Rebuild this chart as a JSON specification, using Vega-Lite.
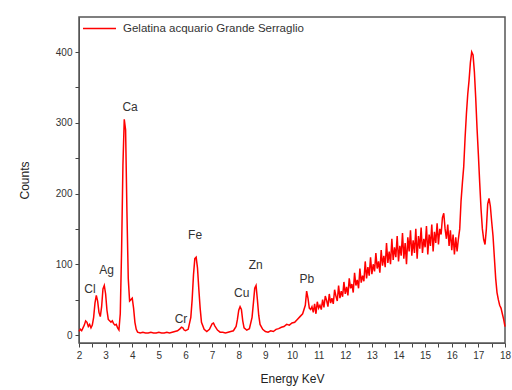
{
  "$schema": "https://vega.github.io/schema/vega-lite/v6.json",
  "width": 426,
  "height": 326,
  "autosize": {"type": "none"},
  "padding": {"left": 79, "top": 17, "right": 7, "bottom": 47},
  "background": "white",
  "config": {
    "font": "Liberation Sans",
    "view": {"stroke": "#555", "strokeWidth": 1.5}
  },
  "datasets": {
    "spec": [
      {"E": 2.00, "C": 5}, {"E": 2.05, "C": 8}, {"E": 2.10, "C": 6}, {"E": 2.15, "C": 10}, {"E": 2.20, "C": 14},
      {"E": 2.25, "C": 20}, {"E": 2.30, "C": 18}, {"E": 2.35, "C": 12}, {"E": 2.40, "C": 15}, {"E": 2.45, "C": 10},
      {"E": 2.50, "C": 14}, {"E": 2.55, "C": 25}, {"E": 2.60, "C": 45}, {"E": 2.65, "C": 56}, {"E": 2.70, "C": 48},
      {"E": 2.75, "C": 32}, {"E": 2.80, "C": 26}, {"E": 2.85, "C": 40}, {"E": 2.90, "C": 65}, {"E": 2.95, "C": 70},
      {"E": 3.00, "C": 58}, {"E": 3.05, "C": 35}, {"E": 3.10, "C": 22}, {"E": 3.15, "C": 20}, {"E": 3.20, "C": 18},
      {"E": 3.25, "C": 20}, {"E": 3.30, "C": 16}, {"E": 3.35, "C": 14}, {"E": 3.40, "C": 15}, {"E": 3.45, "C": 10},
      {"E": 3.50, "C": 7}, {"E": 3.55, "C": 30}, {"E": 3.60, "C": 120}, {"E": 3.65, "C": 240}, {"E": 3.70, "C": 305},
      {"E": 3.75, "C": 290}, {"E": 3.80, "C": 175}, {"E": 3.85, "C": 80}, {"E": 3.90, "C": 48}, {"E": 3.95, "C": 50},
      {"E": 4.00, "C": 52}, {"E": 4.05, "C": 38}, {"E": 4.10, "C": 18}, {"E": 4.15, "C": 8}, {"E": 4.20, "C": 4},
      {"E": 4.3, "C": 3}, {"E": 4.4, "C": 4}, {"E": 4.5, "C": 3}, {"E": 4.6, "C": 3}, {"E": 4.7, "C": 4},
      {"E": 4.8, "C": 3}, {"E": 4.9, "C": 3}, {"E": 5.0, "C": 4}, {"E": 5.1, "C": 3}, {"E": 5.2, "C": 3},
      {"E": 5.3, "C": 4}, {"E": 5.4, "C": 3}, {"E": 5.5, "C": 4}, {"E": 5.6, "C": 5}, {"E": 5.7, "C": 6},
      {"E": 5.8, "C": 9}, {"E": 5.85, "C": 11}, {"E": 5.9, "C": 10}, {"E": 5.95, "C": 7}, {"E": 6.0, "C": 6},
      {"E": 6.1, "C": 8}, {"E": 6.2, "C": 25}, {"E": 6.25, "C": 50}, {"E": 6.3, "C": 85}, {"E": 6.35, "C": 108},
      {"E": 6.4, "C": 110}, {"E": 6.45, "C": 95}, {"E": 6.5, "C": 65}, {"E": 6.55, "C": 38}, {"E": 6.6, "C": 18},
      {"E": 6.7, "C": 8}, {"E": 6.8, "C": 5}, {"E": 6.9, "C": 8}, {"E": 7.0, "C": 16}, {"E": 7.05, "C": 17},
      {"E": 7.1, "C": 13}, {"E": 7.2, "C": 7}, {"E": 7.3, "C": 4}, {"E": 7.4, "C": 4}, {"E": 7.5, "C": 3},
      {"E": 7.6, "C": 4}, {"E": 7.7, "C": 5}, {"E": 7.8, "C": 6}, {"E": 7.9, "C": 12}, {"E": 7.95, "C": 22},
      {"E": 8.0, "C": 35}, {"E": 8.05, "C": 40}, {"E": 8.1, "C": 36}, {"E": 8.15, "C": 20}, {"E": 8.2, "C": 10},
      {"E": 8.3, "C": 7}, {"E": 8.4, "C": 9}, {"E": 8.5, "C": 25}, {"E": 8.55, "C": 45}, {"E": 8.6, "C": 66},
      {"E": 8.65, "C": 70}, {"E": 8.7, "C": 50}, {"E": 8.75, "C": 28}, {"E": 8.8, "C": 15}, {"E": 8.9, "C": 8},
      {"E": 9.0, "C": 5}, {"E": 9.1, "C": 4}, {"E": 9.2, "C": 6}, {"E": 9.3, "C": 5}, {"E": 9.4, "C": 8},
      {"E": 9.5, "C": 9}, {"E": 9.6, "C": 11}, {"E": 9.7, "C": 12}, {"E": 9.8, "C": 15}, {"E": 9.9, "C": 14},
      {"E": 10.0, "C": 17}, {"E": 10.1, "C": 18}, {"E": 10.2, "C": 22}, {"E": 10.3, "C": 26}, {"E": 10.4, "C": 30},
      {"E": 10.5, "C": 42}, {"E": 10.55, "C": 62}, {"E": 10.6, "C": 52}, {"E": 10.65, "C": 38}, {"E": 10.7, "C": 36},
      {"E": 10.75, "C": 40}, {"E": 10.80, "C": 32}, {"E": 10.85, "C": 44}, {"E": 10.90, "C": 30}, {"E": 10.95, "C": 47},
      {"E": 11.00, "C": 38}, {"E": 11.05, "C": 42}, {"E": 11.10, "C": 36}, {"E": 11.15, "C": 50}, {"E": 11.20, "C": 39},
      {"E": 11.25, "C": 55}, {"E": 11.30, "C": 49}, {"E": 11.35, "C": 40}, {"E": 11.40, "C": 58}, {"E": 11.45, "C": 45},
      {"E": 11.50, "C": 52}, {"E": 11.55, "C": 44}, {"E": 11.60, "C": 64}, {"E": 11.65, "C": 55}, {"E": 11.70, "C": 48},
      {"E": 11.75, "C": 70}, {"E": 11.80, "C": 52}, {"E": 11.85, "C": 62}, {"E": 11.90, "C": 54}, {"E": 11.95, "C": 75},
      {"E": 12.00, "C": 58}, {"E": 12.05, "C": 68}, {"E": 12.10, "C": 56}, {"E": 12.15, "C": 80}, {"E": 12.20, "C": 66},
      {"E": 12.25, "C": 72}, {"E": 12.30, "C": 60}, {"E": 12.35, "C": 88}, {"E": 12.40, "C": 70}, {"E": 12.45, "C": 78},
      {"E": 12.50, "C": 66}, {"E": 12.55, "C": 94}, {"E": 12.60, "C": 74}, {"E": 12.65, "C": 84}, {"E": 12.70, "C": 76},
      {"E": 12.75, "C": 104}, {"E": 12.80, "C": 80}, {"E": 12.85, "C": 96}, {"E": 12.90, "C": 84}, {"E": 12.95, "C": 110},
      {"E": 13.00, "C": 86}, {"E": 13.05, "C": 100}, {"E": 13.10, "C": 90}, {"E": 13.15, "C": 116}, {"E": 13.20, "C": 94},
      {"E": 13.25, "C": 104}, {"E": 13.30, "C": 88}, {"E": 13.35, "C": 120}, {"E": 13.40, "C": 98}, {"E": 13.45, "C": 112},
      {"E": 13.50, "C": 96}, {"E": 13.55, "C": 130}, {"E": 13.60, "C": 102}, {"E": 13.65, "C": 118}, {"E": 13.70, "C": 100},
      {"E": 13.75, "C": 136}, {"E": 13.80, "C": 106}, {"E": 13.85, "C": 124}, {"E": 13.90, "C": 110}, {"E": 13.95, "C": 140},
      {"E": 14.00, "C": 104}, {"E": 14.05, "C": 126}, {"E": 14.10, "C": 112}, {"E": 14.15, "C": 144}, {"E": 14.20, "C": 108},
      {"E": 14.25, "C": 130}, {"E": 14.30, "C": 100}, {"E": 14.35, "C": 138}, {"E": 14.40, "C": 118}, {"E": 14.45, "C": 148},
      {"E": 14.50, "C": 112}, {"E": 14.55, "C": 134}, {"E": 14.60, "C": 116}, {"E": 14.65, "C": 150}, {"E": 14.70, "C": 108},
      {"E": 14.75, "C": 140}, {"E": 14.80, "C": 122}, {"E": 14.85, "C": 152}, {"E": 14.90, "C": 116}, {"E": 14.95, "C": 136},
      {"E": 15.00, "C": 124}, {"E": 15.05, "C": 154}, {"E": 15.10, "C": 114}, {"E": 15.15, "C": 142}, {"E": 15.20, "C": 126},
      {"E": 15.25, "C": 156}, {"E": 15.30, "C": 118}, {"E": 15.35, "C": 146}, {"E": 15.40, "C": 130}, {"E": 15.45, "C": 158},
      {"E": 15.50, "C": 128}, {"E": 15.55, "C": 150}, {"E": 15.60, "C": 142}, {"E": 15.65, "C": 166}, {"E": 15.70, "C": 172},
      {"E": 15.75, "C": 150}, {"E": 15.80, "C": 136}, {"E": 15.85, "C": 156}, {"E": 15.90, "C": 126}, {"E": 15.95, "C": 148},
      {"E": 16.00, "C": 120}, {"E": 16.05, "C": 142}, {"E": 16.10, "C": 114}, {"E": 16.15, "C": 138}, {"E": 16.20, "C": 118},
      {"E": 16.25, "C": 136}, {"E": 16.30, "C": 150}, {"E": 16.35, "C": 190}, {"E": 16.40, "C": 215}, {"E": 16.45, "C": 238},
      {"E": 16.50, "C": 278}, {"E": 16.55, "C": 312}, {"E": 16.60, "C": 340}, {"E": 16.65, "C": 360}, {"E": 16.70, "C": 385},
      {"E": 16.75, "C": 400}, {"E": 16.80, "C": 396}, {"E": 16.85, "C": 372}, {"E": 16.90, "C": 335}, {"E": 16.95, "C": 292},
      {"E": 17.00, "C": 255}, {"E": 17.05, "C": 215}, {"E": 17.10, "C": 178}, {"E": 17.15, "C": 150}, {"E": 17.20, "C": 135},
      {"E": 17.25, "C": 128}, {"E": 17.30, "C": 150}, {"E": 17.35, "C": 185}, {"E": 17.40, "C": 193}, {"E": 17.45, "C": 182},
      {"E": 17.50, "C": 160}, {"E": 17.55, "C": 140}, {"E": 17.60, "C": 110}, {"E": 17.65, "C": 80}, {"E": 17.70, "C": 60},
      {"E": 17.75, "C": 50}, {"E": 17.80, "C": 42}, {"E": 17.85, "C": 38}, {"E": 17.90, "C": 30}, {"E": 17.95, "C": 22},
      {"E": 18.00, "C": 12}
    ],
    "elements": [
      {"name": "Ca", "E": 3.92, "C": 322},
      {"name": "Fe", "E": 6.36, "C": 141},
      {"name": "Ag", "E": 3.04, "C": 92},
      {"name": "Cl", "E": 2.41, "C": 65},
      {"name": "Cr", "E": 5.83, "C": 23},
      {"name": "Cu", "E": 8.11, "C": 59},
      {"name": "Zn", "E": 8.64, "C": 99},
      {"name": "Pb", "E": 10.56, "C": 79}
    ]
  },
  "layer": [
    {
      "data": {"name": "spec"},
      "mark": {"type": "line", "strokeWidth": 1.5},
      "encoding": {
        "x": {
          "field": "E", "type": "quantitative",
          "scale": {"domain": [2, 18], "nice": false, "zero": false},
          "axis": {
            "title": "Energy KeV", "titleFontSize": 12, "titleFontWeight": "normal", "titleColor": "#222", "titlePadding": 13,
            "grid": false, "domain": true, "domainColor": "#555", "ticks": true, "tickSize": 4, "tickColor": "#444", "tickWidth": 1,
            "values": [2, 2.5, 3, 3.5, 4, 4.5, 5, 5.5, 6, 6.5, 7, 7.5, 8, 8.5, 9, 9.5, 10, 10.5, 11, 11.5, 12, 12.5, 13, 13.5, 14, 14.5, 15, 15.5, 16, 16.5, 17, 17.5, 18],
            "labelExpr": "datum.value % 1 === 0 ? format(datum.value, 'd') : ''",
            "labelOverlap": false, "labelFlush": false,
            "labelFontSize": 10, "labelColor": "#333", "labelPadding": 3
          }
        },
        "y": {
          "field": "C", "type": "quantitative",
          "scale": {"domain": [-11.3, 449.5], "nice": false, "zero": false},
          "axis": {
            "title": "Counts", "titleFontSize": 12, "titleFontWeight": "normal", "titleColor": "#222", "titlePadding": 24,
            "grid": false, "domain": true, "domainColor": "#555", "ticks": true, "tickSize": 4, "tickColor": "#444", "tickWidth": 1,
            "values": [0, 50, 100, 150, 200, 250, 300, 350, 400],
            "labelExpr": "datum.value % 100 === 0 ? format(datum.value, 'd') : ''",
            "labelOverlap": false,
            "labelFontSize": 10, "labelColor": "#333", "labelPadding": 3
          }
        },
        "color": {
          "datum": "Gelatina acquario Grande Serraglio",
          "type": "nominal",
          "scale": {"range": ["#ff0000"]},
          "legend": {
            "title": null, "orient": "none", "legendX": 3, "legendY": -6,
            "symbolType": "stroke", "symbolSize": 1089, "symbolStrokeWidth": 1.3,
            "labelFontSize": 11.5, "labelColor": "#333", "labelOffset": 6, "padding": 0, "labelLimit": 400
          }
        }
      }
    },
    {
      "data": {"name": "elements"},
      "mark": {"type": "text", "fontSize": 12, "color": "#333", "baseline": "middle", "align": "center"},
      "encoding": {
        "x": {
          "field": "E", "type": "quantitative",
          "scale": {"domain": [2, 18], "nice": false, "zero": false},
          "axis": {
            "title": "Energy KeV", "titleFontSize": 12, "titleFontWeight": "normal", "titleColor": "#222", "titlePadding": 13,
            "grid": false, "domain": true, "domainColor": "#555", "ticks": true, "tickSize": 4, "tickColor": "#444", "tickWidth": 1,
            "values": [2, 2.5, 3, 3.5, 4, 4.5, 5, 5.5, 6, 6.5, 7, 7.5, 8, 8.5, 9, 9.5, 10, 10.5, 11, 11.5, 12, 12.5, 13, 13.5, 14, 14.5, 15, 15.5, 16, 16.5, 17, 17.5, 18],
            "labelExpr": "datum.value % 1 === 0 ? format(datum.value, 'd') : ''",
            "labelOverlap": false, "labelFlush": false,
            "labelFontSize": 10, "labelColor": "#333", "labelPadding": 3
          }
        },
        "y": {
          "field": "C", "type": "quantitative",
          "scale": {"domain": [-11.3, 449.5], "nice": false, "zero": false},
          "axis": {
            "title": "Counts", "titleFontSize": 12, "titleFontWeight": "normal", "titleColor": "#222", "titlePadding": 24,
            "grid": false, "domain": true, "domainColor": "#555", "ticks": true, "tickSize": 4, "tickColor": "#444", "tickWidth": 1,
            "values": [0, 50, 100, 150, 200, 250, 300, 350, 400],
            "labelExpr": "datum.value % 100 === 0 ? format(datum.value, 'd') : ''",
            "labelOverlap": false,
            "labelFontSize": 10, "labelColor": "#333", "labelPadding": 3
          }
        },
        "text": {"field": "name"}
      }
    }
  ]
}
